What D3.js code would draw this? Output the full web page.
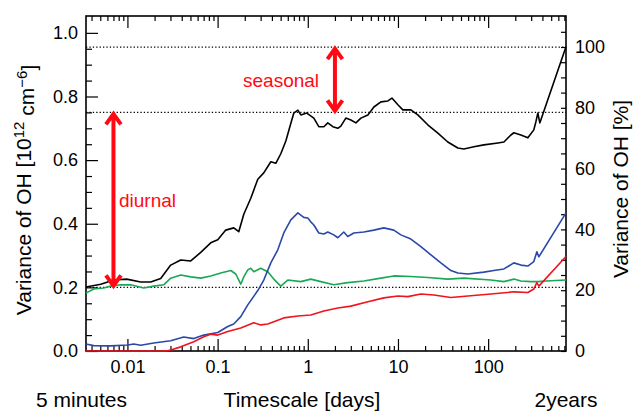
<!DOCTYPE html>
<html><head><meta charset="utf-8">
<script src="https://cdn.jsdelivr.net/npm/d3@7"></script>
<style>
html,body{margin:0;padding:0;background:#fff;}
svg{display:block;font-family:"Liberation Sans",Arial,Helvetica,sans-serif;}
</style></head>
<body>
<svg id="chart" width="634" height="412"></svg>
<script>
// ---- data (timescale in days, variance in 10^12 cm^-6) ----
const blackT = [0.00347,0.00506,0.00705,0.00982,0.01404,0.01812,0.02339,0.0302,0.0390,0.0504,0.0650,0.0839,0.1004,0.1231,0.1510,0.1717,0.1951,0.2333,0.279,0.325,0.389,0.442,0.502,0.571,0.649,0.700,0.776,0.838,0.975,1.167,1.325,1.507,1.667,1.897,2.154,2.325,2.642,3.005,3.415,3.88,4.64,5.41,6.47,7.74,8.57,9.98,11.33,13.9,16.6,21.4,27.7,35.7,46.1,53.8,69.5,89.7,128.3,149.6,178.6,192.8,230.6,275.6,321,338,356,374,730];
const blackV = [0.201,0.21,0.223,0.226,0.217,0.217,0.228,0.27,0.286,0.283,0.31,0.34,0.35,0.38,0.387,0.375,0.43,0.48,0.54,0.56,0.595,0.59,0.62,0.66,0.716,0.748,0.757,0.742,0.748,0.732,0.705,0.705,0.717,0.705,0.70,0.707,0.732,0.726,0.717,0.732,0.742,0.767,0.783,0.786,0.795,0.774,0.758,0.758,0.742,0.711,0.685,0.657,0.638,0.635,0.642,0.648,0.654,0.657,0.679,0.686,0.679,0.67,0.695,0.72,0.748,0.717,0.956];

const blueT = [0.00347,0.00423,0.00653,0.01008,0.01175,0.01404,0.01957,0.0302,0.0421,0.0544,0.0702,0.1004,0.1296,0.1510,0.1806,0.216,0.279,0.325,0.389,0.465,0.5417,0.649,0.776,0.903,1.0,1.079,1.167,1.325,1.507,1.667,1.943,2.154,2.507,2.777,3.238,4.18,5.41,6.97,8.99,10.77,13.9,17.95,23.2,29.9,38.6,46.1,59.6,89.7,115.8,149.6,192.8,230.6,275.6,321,347,365,730];
const blueV = [0.022,0.017,0.016,0.019,0.022,0.018,0.025,0.032,0.044,0.039,0.050,0.058,0.077,0.085,0.108,0.145,0.19,0.223,0.277,0.318,0.371,0.412,0.434,0.42,0.418,0.406,0.396,0.371,0.368,0.374,0.365,0.356,0.374,0.36,0.371,0.374,0.38,0.387,0.38,0.365,0.352,0.328,0.302,0.277,0.253,0.245,0.242,0.248,0.253,0.258,0.277,0.27,0.267,0.281,0.312,0.296,0.434];

const greenT = [0.00347,0.00423,0.00546,0.00653,0.00843,0.01088,0.01516,0.01957,0.02527,0.0302,0.0390,0.0504,0.0650,0.0839,0.1084,0.1399,0.1590,0.1806,0.1951,0.216,0.2333,0.2518,0.301,0.360,0.4197,0.502,0.600,0.838,1.079,1.394,1.943,2.777,4.18,6.47,8.99,13.9,21.4,35.7,53.8,107.3,149.6,192.8,230.6,298,356,436.5,730];
const greenV = [0.182,0.195,0.198,0.204,0.208,0.208,0.198,0.204,0.208,0.229,0.239,0.233,0.229,0.236,0.245,0.253,0.242,0.21,0.233,0.255,0.26,0.249,0.26,0.249,0.226,0.204,0.223,0.218,0.226,0.218,0.208,0.215,0.22,0.229,0.236,0.234,0.231,0.226,0.229,0.223,0.218,0.226,0.22,0.218,0.218,0.22,0.223];

const redT = [0.00347,0.0266,0.0302,0.0390,0.0544,0.0702,0.0839,0.1004,0.1296,0.1806,0.2518,0.301,0.360,0.4197,0.5417,0.776,1.079,1.507,2.154,3.005,4.64,6.97,9.98,12.86,17.95,25.0,38.6,59.6,107.3,192.8,275.6,321,347,365,730];
const redV = [0,0,0.003,0.013,0.029,0.045,0.053,0.05,0.061,0.072,0.089,0.082,0.085,0.092,0.104,0.11,0.113,0.126,0.135,0.141,0.155,0.167,0.173,0.171,0.179,0.176,0.168,0.173,0.179,0.186,0.184,0.195,0.215,0.204,0.297];

const refLevels = [0.955, 0.75, 0.2];           // dotted reference lines
const xMajor = [0.01, 0.1, 1, 10, 100];
const yMajor = [0, 0.2, 0.4, 0.6, 0.8, 1.0];
const pctMajor = [0, 20, 40, 60, 80, 100];
const diurnal = {t: 0.007, from: 0.2, to: 0.75, label: "diurnal"};
const seasonal = {t: 2, from: 0.75, to: 0.955, label: "seasonal"};

// ---- scales ----
const L = 86, R = 566, T = 16, B = 351;
const x = d3.scaleLog().domain([5/1440, 730]).range([L, R]);
const y = d3.scaleLinear().domain([0, 1.053]).range([B, T]);
const yP = d3.scaleLinear().domain([0, 110.2]).range([B, T]);

const svg = d3.select("#chart");

// minor tick values
const xMinor = [];
[0.001,0.01,0.1,1,10,100].forEach(d => { for (let m = 2; m <= 9; m++) { const v = d*m; if (v >= 5/1440 && v <= 730) xMinor.push(v); } });
const yMinor = d3.range(0, 21).map(i => i*0.05).filter(v => Math.abs(v*5 - Math.round(v*5)) > 1e-6);
const pctTicks = d3.range(0, 22).map(i => i*5);

function styleAxis(g) {
  g.select(".domain").remove();
  g.selectAll(".tick line").attr("stroke", "#000").attr("stroke-width", 1.2);
  g.selectAll("text").attr("fill", "#000").style("font-size", "18px").style("font-family", '"Liberation Sans",Arial,sans-serif');
}

// dotted lines
svg.append("g").selectAll("line").data(refLevels).join("line")
  .attr("x1", L).attr("x2", R).attr("y1", d => y(d)).attr("y2", d => y(d))
  .attr("stroke", "#000").attr("stroke-width", 1.3).attr("stroke-dasharray", "1.3,2.1");

// axes
svg.append("g").attr("transform", `translate(0,${B})`)
  .call(d3.axisBottom(x).tickValues(xMajor).tickSize(-12).tickPadding(9).tickFormat(d3.format("~g"))).call(styleAxis);
svg.append("g").attr("transform", `translate(0,${B})`)
  .call(d3.axisBottom(x).tickValues(xMinor).tickSize(-5).tickFormat("")).call(styleAxis);
svg.append("g").attr("transform", `translate(0,${T})`)
  .call(d3.axisTop(x).tickValues(xMajor).tickSize(-12).tickFormat("")).call(styleAxis);
svg.append("g").attr("transform", `translate(0,${T})`)
  .call(d3.axisTop(x).tickValues(xMinor).tickSize(-5).tickFormat("")).call(styleAxis);
svg.append("g").attr("transform", `translate(${L},0)`)
  .call(d3.axisLeft(y).tickValues(yMajor).tickSize(-12).tickPadding(8).tickFormat(d3.format(".1f"))).call(styleAxis);
svg.append("g").attr("transform", `translate(${L},0)`)
  .call(d3.axisLeft(y).tickValues(yMinor).tickSize(-6).tickFormat("")).call(styleAxis);
svg.append("g").attr("transform", `translate(${R},0)`)
  .call(d3.axisRight(yP).tickValues(pctTicks).tickSize(-5).tickPadding(9).tickFormat(d => pctMajor.includes(d) ? d : "")).call(styleAxis);

// frame
svg.append("rect").attr("x", L).attr("y", T).attr("width", R-L).attr("height", B-T)
  .attr("fill", "none").attr("stroke", "#000").attr("stroke-width", 1.6);

// curves
const line = d3.line().x(d => x(d[0])).y(d => y(d[1]));
const series = [
  {t: greenT, v: greenV, c: "#19a854"},
  {t: blueT, v: blueV, c: "#2a48a8"},
  {t: redT, v: redV, c: "#f0141e"},
  {t: blackT, v: blackV, c: "#000000"}
];
series.forEach(s => {
  svg.append("path").datum(s.t.map((t, i) => [t, s.v[i]]))
    .attr("d", line).attr("fill", "none").attr("stroke", s.c)
    .attr("stroke-width", 1.6).attr("stroke-linejoin", "round");
});

// annotation arrows
function arrow(a) {
  const ax = x(a.t), y1 = y(a.to), y2 = y(a.from);
  const w = 7.5, h = 12;
  const p = `M${ax},${y1+1}L${ax},${y2-1}` +
            `M${ax-w},${y1+h}L${ax},${y1+1.5}L${ax+w},${y1+h}` +
            `M${ax-w},${y2-h}L${ax},${y2-1.5}L${ax+w},${y2-h}`;
  svg.append("path").attr("d", p).attr("fill", "none").attr("stroke", "#ff0a14")
    .attr("stroke-width", 4).attr("stroke-linejoin", "miter").attr("stroke-linecap", "butt");
}
arrow(diurnal); arrow(seasonal);
svg.append("text").attr("x", 119).attr("y", 207).attr("fill", "#ff0a14").style("font-size", "19px").text(diurnal.label);
svg.append("text").attr("x", 243).attr("y", 87).attr("fill", "#ff0a14").style("font-size", "19px").text(seasonal.label);

// titles
const yt = svg.append("text").attr("transform", "translate(31,190) rotate(-90)")
  .attr("text-anchor", "middle").style("font-size", "21px").attr("fill", "#000");
yt.append("tspan").text("Variance of OH [10");
yt.append("tspan").attr("dy", "-0.45em").style("font-size", "15px").text("12");
yt.append("tspan").attr("dy", "0.45em").text(" cm");
yt.append("tspan").attr("dy", "-0.45em").style("font-size", "15px").text("\u22126");
yt.append("tspan").attr("dy", "0.45em").text("]");

svg.append("text").attr("transform", "translate(628,189) rotate(-90)")
  .attr("text-anchor", "middle").style("font-size", "21px").attr("fill", "#000").text("Variance of OH [%]");

svg.append("text").attr("x", 36).attr("y", 407).style("font-size", "21px").text("5 minutes");
svg.append("text").attr("x", 302).attr("y", 407).attr("text-anchor", "middle").style("font-size", "21px").text("Timescale [days]");
svg.append("text").attr("x", 566).attr("y", 407).attr("text-anchor", "middle").style("font-size", "21px").text("2years");
</script>
</body></html>
